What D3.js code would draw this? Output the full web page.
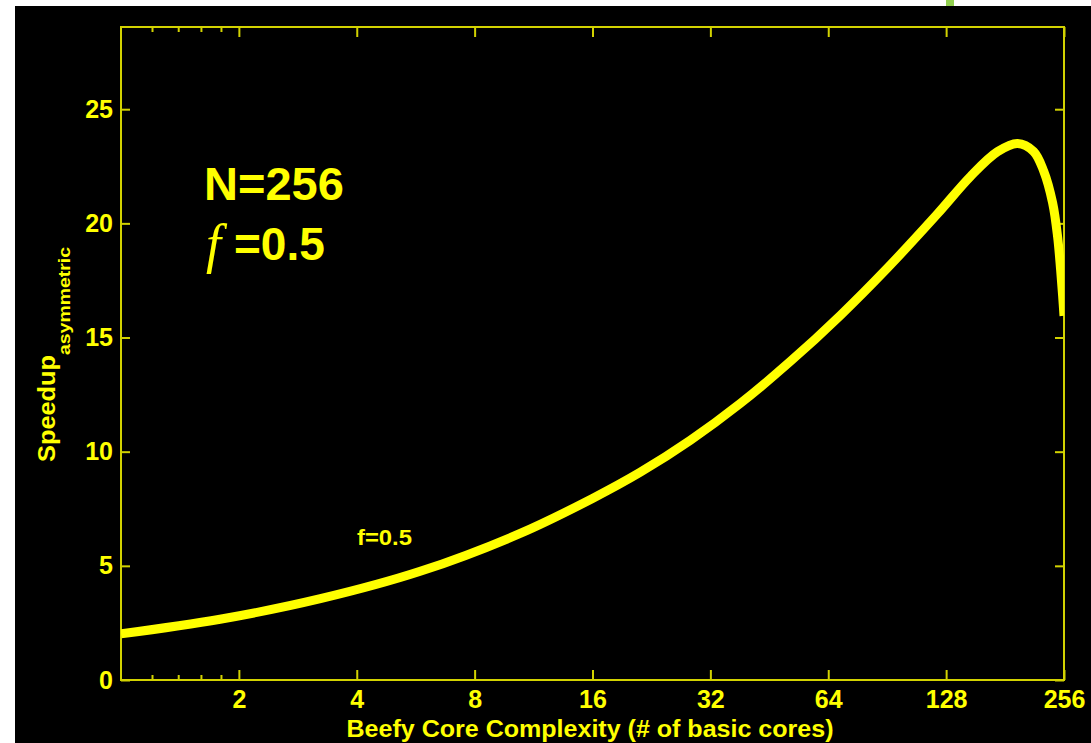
<!DOCTYPE html>
<html>
<head>
<meta charset="utf-8">
<script src="https://cdn.jsdelivr.net/npm/d3@7"></script>
<style>
  html, body { margin: 0; padding: 0; background: #ffffff; }
  svg { display: block; }
  text { font-family: "Liberation Sans", Arial, Helvetica, sans-serif; font-weight: bold; fill: #ffff00; }
</style>
</head>
<body>
<svg id="chart" width="1091" height="743"></svg>
<script>
// Beefy core size r (in basic-core equivalents) and the asymmetric speedup, N = 256, f = 0.5
const coreSizes = [1, 1.79, 3.23, 5.81, 10.46, 16, 21.2, 28.45, 38.2, 51.2, 68.8, 90.7,
                   121.7, 147.8, 173.2, 194.8, 214.1, 227.1, 239.4, 246.6, 251, 254, 256];
const speedups  = [2.02, 2.66, 3.56, 4.76, 6.42, 7.95, 9.1, 10.5, 12.12, 13.95, 15.98, 18.05,
                   20.42, 22.06, 23.14, 23.5, 23.15, 22.3, 20.9, 19.4, 17.95, 16.8, 15.95];

const xMajorTicks = [2, 4, 8, 16, 32, 64, 128, 256];
const xMinorTicks = [1.2, 1.4, 1.6, 1.8];
const yTicks = [0, 5, 10, 15, 20, 25];

const xTitle = "Beefy Core Complexity (# of basic cores)";
const yTitle = "Speedup";
const yTitleSub = "asymmetric";
const curveLabel = "f=0.5";

const svg = d3.select("#chart");
const W = 1091, H = 743;
const plot = { left: 121, right: 1064, top: 27, bottom: 680 };
const axisColor = "#d2d200";

// slide background and accent
svg.append("rect").attr("x", 15).attr("y", 6).attr("width", W - 15).attr("height", H - 6).attr("fill", "#000");
svg.append("rect").attr("x", 946).attr("y", 0).attr("width", 8).attr("height", 6).attr("fill", "#92d050");

const x = d3.scaleLog().base(2).domain([1, 256]).range([plot.left, plot.right]);
const y = d3.scaleLinear().domain([0, 28.6]).range([plot.bottom, plot.top]);

function styleAxis(g, labelSize) {
  g.select(".domain").remove();
  g.selectAll(".tick line").attr("stroke", axisColor).attr("stroke-width", 2);
  g.selectAll(".tick text").attr("fill", "#ffff00").style("font-size", labelSize + "px")
    .style("font-family", "'Liberation Sans', Arial, sans-serif").style("font-weight", "bold");
}

// bottom axis: major ticks with labels
svg.append("g").attr("transform", `translate(0,${plot.bottom})`)
  .call(d3.axisBottom(x).tickValues(xMajorTicks).tickFormat(d3.format("d")).tickSize(-10).tickSizeOuter(0).tickPadding(10))
  .call(g => styleAxis(g, 25));
svg.append("g").attr("transform", `translate(0,${plot.bottom})`)
  .call(d3.axisBottom(x).tickValues(xMinorTicks).tickFormat("").tickSize(-5).tickSizeOuter(0))
  .call(g => styleAxis(g, 25));
// top axis: mirrored ticks
svg.append("g").attr("transform", `translate(0,${plot.top})`)
  .call(d3.axisTop(x).tickValues(xMajorTicks).tickFormat("").tickSize(-10).tickSizeOuter(0))
  .call(g => styleAxis(g, 25));
svg.append("g").attr("transform", `translate(0,${plot.top})`)
  .call(d3.axisTop(x).tickValues(xMinorTicks).tickFormat("").tickSize(-5).tickSizeOuter(0))
  .call(g => styleAxis(g, 25));
// left axis with labels, right axis mirrored
svg.append("g").attr("transform", `translate(${plot.left},0)`)
  .call(d3.axisLeft(y).tickValues(yTicks).tickSize(-9).tickSizeOuter(0).tickPadding(8))
  .call(g => styleAxis(g, 25));
svg.append("g").attr("transform", `translate(${plot.right},0)`)
  .call(d3.axisRight(y).tickValues(yTicks).tickFormat("").tickSize(-9).tickSizeOuter(0))
  .call(g => styleAxis(g, 25));

// plot frame
svg.append("rect")
  .attr("x", plot.left).attr("y", plot.top)
  .attr("width", plot.right - plot.left).attr("height", plot.bottom - plot.top)
  .attr("fill", "none").attr("stroke", axisColor).attr("stroke-width", 2);

// speedup curve, clipped to the axes box
svg.append("clipPath").attr("id", "plotClip").append("rect")
  .attr("x", plot.left).attr("y", plot.top)
  .attr("width", plot.right - plot.left).attr("height", plot.bottom - plot.top);

const points = coreSizes.map((r, i) => [r, speedups[i]]);
const line = d3.line().x(d => x(d[0])).y(d => y(d[1])).curve(d3.curveCatmullRom.alpha(0.5));
svg.append("path")
  .attr("d", line(points))
  .attr("clip-path", "url(#plotClip)")
  .attr("fill", "none").attr("stroke", "#ffff00").attr("stroke-width", 9)
  .attr("stroke-linejoin", "round");

// axis titles
svg.append("text")
  .attr("x", 590).attr("y", 737).attr("text-anchor", "middle")
  .attr("textLength", 487).attr("lengthAdjust", "spacingAndGlyphs")
  .style("font-size", "23px").text(xTitle);

svg.append("text")
  .attr("transform", "translate(55,462) rotate(-90)")
  .attr("textLength", 107).attr("lengthAdjust", "spacingAndGlyphs")
  .style("font-size", "24px").text(yTitle);
svg.append("text")
  .attr("transform", "translate(70,355) rotate(-90)")
  .attr("textLength", 108).attr("lengthAdjust", "spacingAndGlyphs")
  .style("font-size", "16px").text(yTitleSub);

// in-plot annotations
svg.append("text").attr("x", 204).attr("y", 200).style("font-size", "47px").text("N=256");
svg.append("text").attr("x", 206).attr("y", 262)
  .style("font-family", "'Liberation Serif', 'Times New Roman', serif")
  .style("font-style", "italic").style("font-weight", "normal")
  .style("font-size", "54px").text("f");
svg.append("text").attr("x", 234).attr("y", 260).style("font-size", "46px").text("=0.5");

svg.append("text")
  .attr("x", 357).attr("y", 545)
  .attr("textLength", 55).attr("lengthAdjust", "spacingAndGlyphs")
  .style("font-size", "22px").text(curveLabel);
</script>
</body>
</html>
